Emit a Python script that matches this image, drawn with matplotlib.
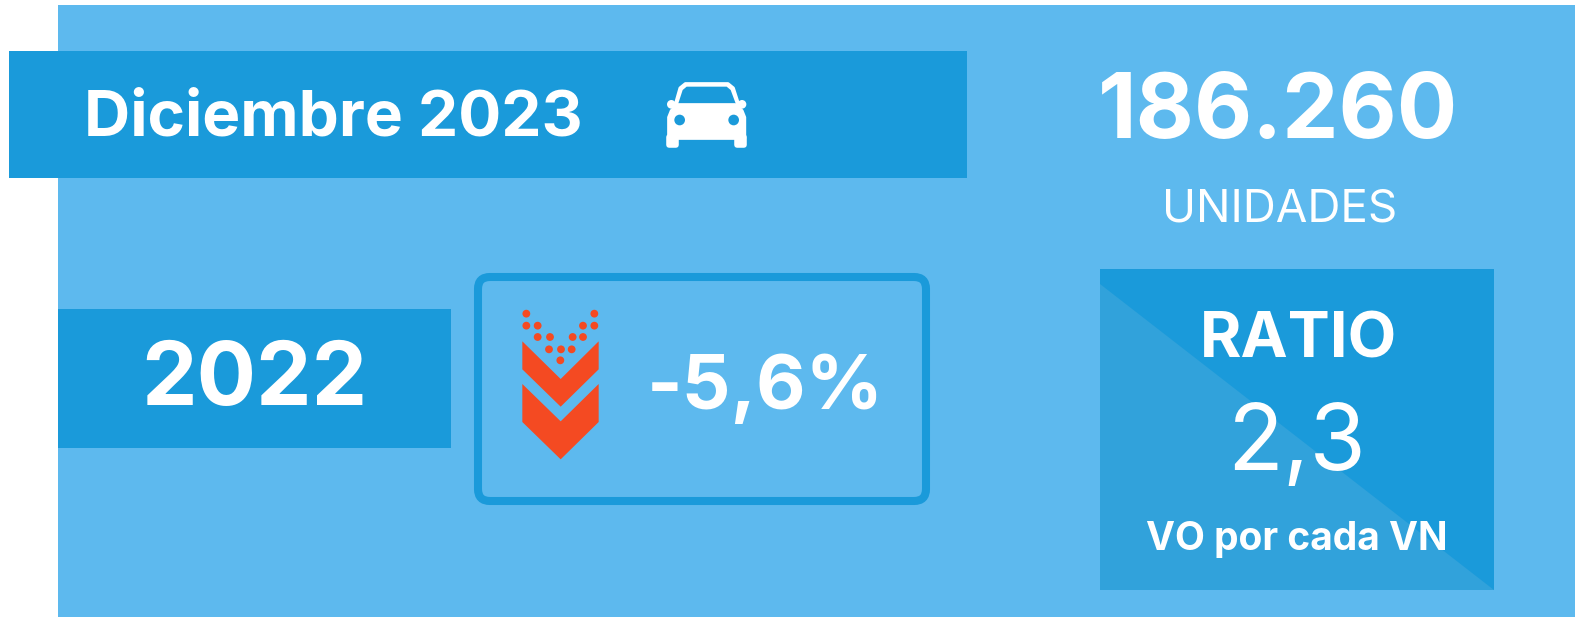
import matplotlib
matplotlib.use("Agg")
import matplotlib.pyplot as plt
from matplotlib.patches import Rectangle, Polygon, Circle, FancyBboxPatch

plt.rcParams['font.family'] = ['Inter', 'DejaVu Sans']

period_label = "Diciembre 2023"
total_value = "186.260"
total_unit = "UNIDADES"
compare_year = "2022"
change_label = "-5,6%"
ratio_title = "RATIO"
ratio_value = "2,3"
ratio_note = "VO por cada VN"

BG = "#5DB9EE"
DARK = "#1A9ADA"
LIGHT = "#31A2DB"
RED = "#F44A22"
W = "white"

fig = plt.figure(figsize=(15.75, 6.17), dpi=100, facecolor="white")
ax = fig.add_axes([0, 0, 1, 1])
ax.set_xlim(0, 1575)
ax.set_ylim(617, 0)
ax.axis("off")


def rect(x0, y0, x1, y1, c, z=1):
    ax.add_patch(Rectangle((x0, y0), x1 - x0, y1 - y0, fc=c, ec="none", zorder=z))


def label(x, y, s, size, weight):
    ax.text(x, y, s, fontsize=size, fontweight=weight, color=W, ha="center", va="baseline", zorder=5)


rect(58, 5, 1575, 617, BG)
rect(9, 51, 967, 178, DARK, 2)
rect(58, 309, 451, 448, DARK, 2)
rect(1100, 269, 1494, 590, DARK, 2)
ax.add_patch(Polygon([(1100, 284), (1494, 590), (1100, 590)], fc=LIGHT, ec="none", zorder=3))

ax.add_patch(FancyBboxPatch((478, 277), 448, 224, boxstyle="round,pad=0,rounding_size=12",
                            fc="none", ec=DARK, lw=5.8, zorder=2))


# car icon, drawn in zoom-crop coordinates
def zp(x, y):
    return 650 + x / 3, 70 + y / 3


def poly(pts, c, z=4, lw=0.0):
    ax.add_patch(Polygon([zp(*p) for p in pts], fc=c, ec=c if lw else "none", lw=lw,
                         joinstyle="round", zorder=z))


def circ(x, y, r, c, z=4):
    ax.add_patch(Circle(zp(x, y), r / 3, fc=c, ec="none", zorder=z))


# roof outline and window
poly([(74, 110), (90, 54), (106, 41), (234, 41), (250, 54), (268, 110)], W, lw=2.2)
poly([(84, 103), (98, 60), (110, 50), (230, 50), (242, 60), (258, 103)], DARK, z=4.5)
# body
poly([(56, 142), (64, 122), (84, 104), (256, 104), (276, 122), (284, 142), (284, 205), (56, 205)], W, z=4.6, lw=2.2)
circ(64, 103, 13, W)
circ(276, 103, 13, W)
poly([(58, 200), (78, 200), (78, 224), (58, 224)], W, z=4.6, lw=4)
poly([(262, 200), (282, 200), (282, 224), (262, 224)], W, z=4.6, lw=4)
circ(89, 150, 16, DARK, 5)
circ(251, 150, 16, DARK, 5)


# down arrow icon
def ap(x, y):
    return 500 + x / 3, 280 + y / 3


ax.add_patch(Polygon([ap(*p) for p in [(67, 184), (182, 297), (296, 184), (296, 268), (182, 380), (67, 268)]],
                     fc=RED, ec="none", zorder=4))
ax.add_patch(Polygon([ap(*p) for p in [(67, 312), (182, 424), (296, 312), (296, 426), (182, 538), (67, 426)]],
                     fc=RED, ec="none", zorder=4))
for p in [(79, 101), (283, 101), (79, 137), (113, 137), (249, 137), (283, 137), (113, 171),
          (150, 171), (218, 171), (249, 171), (147, 208), (183, 208), (215, 208), (181, 241)]:
    ax.add_patch(Circle(ap(*p), 3.9, fc=RED, ec="none", zorder=4))

label(333, 136, period_label, 46, "bold")
label(1278, 138, total_value, 64.5, "bold")
label(1280, 222, total_unit, 33, "normal")
label(254.5, 405, compare_year, 63.5, "bold")
label(765, 409, change_label, 55, "bold")
label(1298, 358, ratio_title, 45.5, "bold")
label(1297, 470, ratio_value, 66, "normal")
label(1297, 550, ratio_note, 28, "bold")

fig.savefig("out.png", dpi=100, facecolor="white")
